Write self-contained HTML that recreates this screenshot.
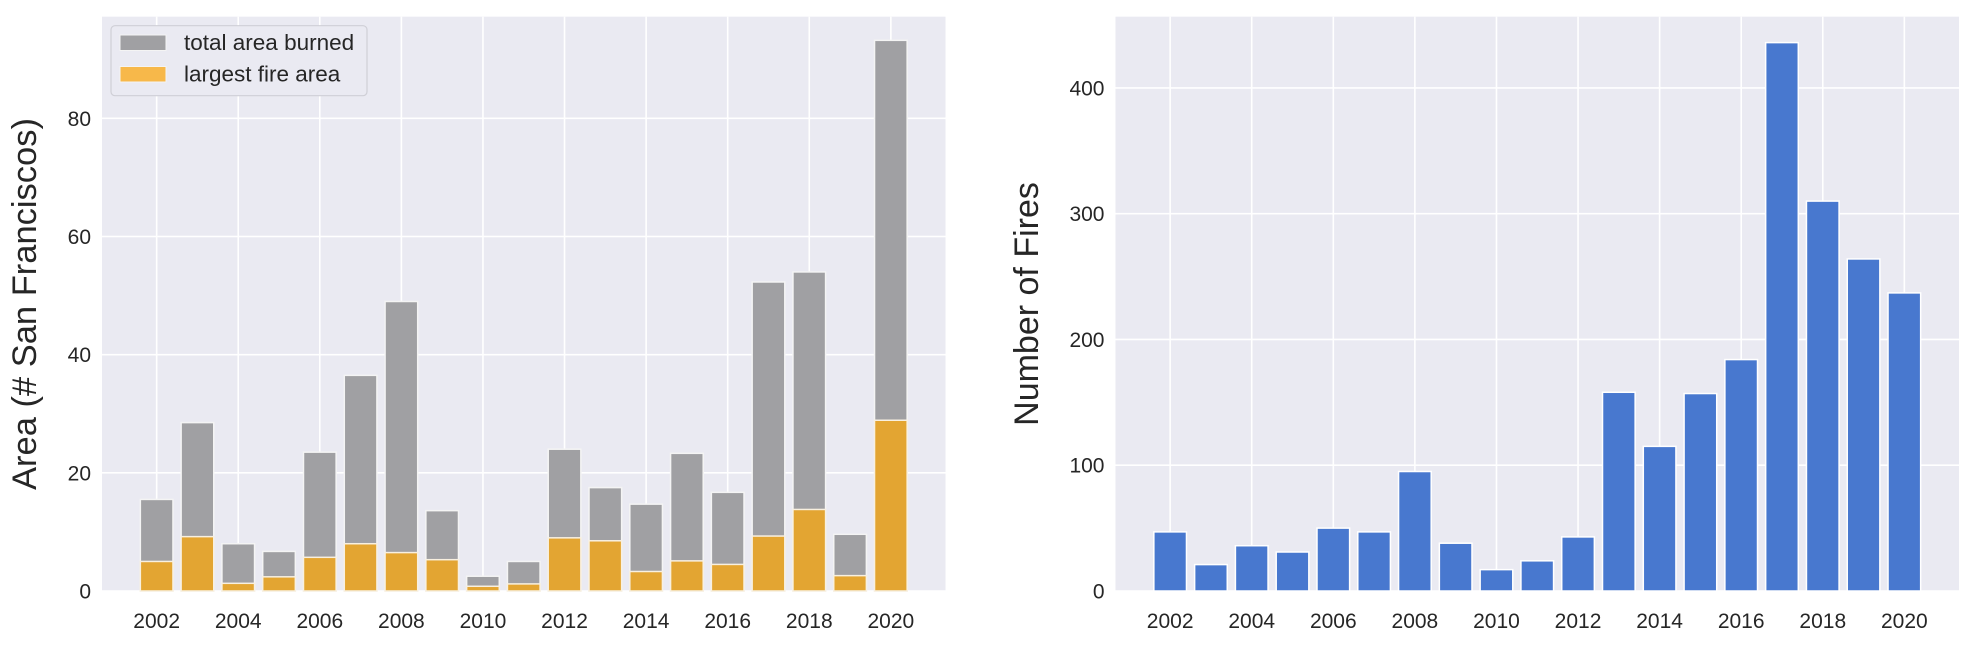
<!DOCTYPE html>
<html><head><meta charset="utf-8"><style>
body{margin:0;background:#fff;}
svg{display:block;font-family:"Liberation Sans",Arial,sans-serif;}
</style></head><body>
<svg id="chart" width="1974" height="647" xmlns="http://www.w3.org/2000/svg"></svg>
<script>
const years=[2002,2003,2004,2005,2006,2007,2008,2009,2010,2011,2012,2013,2014,2015,2016,2017,2018,2019,2020];
const totalArea=[15.5,28.5,8,6.7,23.5,36.5,49,13.6,2.5,5,24,17.5,14.7,23.3,16.7,52.3,54,9.6,93.2];
const largestArea=[5,9.2,1.3,2.4,5.7,8,6.5,5.3,0.8,1.2,9,8.5,3.3,5.1,4.5,9.3,13.8,2.6,28.9];
const fireCounts=[47,21,36,31,50,47,95,38,17,24,43,158,115,157,184,436,310,264,237];
const xTicks=[2002,2004,2006,2008,2010,2012,2014,2016,2018,2020];
const leftYTicks=[0,20,40,60,80];
const rightYTicks=[0,100,200,300,400];

const NS="http://www.w3.org/2000/svg";
const svg=document.getElementById('chart');
function mk(tag,attrs,parent){const e=document.createElementNS(NS,tag);for(const k in attrs)e.setAttribute(k,attrs[k]);(parent||svg).appendChild(e);return e;}
const TOP=16.7,BOT=591, XMIN=2000.66, XMAX=2021.34;

function panel(L,R,ymax,yTicks,name){
  const g=mk('g',{});
  
  
  const xs=v=>L+(v-XMIN)/(XMAX-XMIN)*(R-L);
  const ys=v=>BOT-v/ymax*(BOT-TOP);
  const bg=mk('rect',{x:L,y:TOP,width:R-L,height:BOT-TOP,fill:'#eaeaf2'},g);
  
  
  xTicks.forEach(t=>{
    const l=mk('line',{x1:xs(t),x2:xs(t),y1:TOP,y2:BOT,stroke:'#fff','stroke-width':1.6},g);
    
    
    const tx=mk('text',{x:xs(t),y:628,'text-anchor':'middle','font-size':21,fill:'#262626'},g);
    tx.textContent=t;
    
    
  });
  yTicks.forEach(t=>{
    const l=mk('line',{x1:L,x2:R,y1:ys(t),y2:ys(t),stroke:'#fff','stroke-width':1.6},g);
    
    
    const tx=mk('text',{x:L-11,y:ys(t)+7.5,'text-anchor':'end','font-size':21,fill:'#262626'},g);
    tx.textContent=t;
    
    
  });
  return {g,xs,ys};
}

// Left panel
const P1=panel(102,945.5,97.2,leftYTicks,'area-chart');
years.forEach((y,i)=>{
  const x=P1.xs(y-0.4),w=P1.xs(y+0.4)-x;
  const b=mk('rect',{x:x,y:P1.ys(totalArea[i]),width:w,height:BOT-P1.ys(totalArea[i]),fill:'#a0a0a3',stroke:'#f4f4f4','stroke-width':1.5},P1.g);
  
  
});
years.forEach((y,i)=>{
  const x=P1.xs(y-0.4),w=P1.xs(y+0.4)-x;
  const b=mk('rect',{x:x,y:P1.ys(largestArea[i]),width:w,height:BOT-P1.ys(largestArea[i]),fill:'#e3a532',stroke:'#f8f0e0','stroke-width':1.5},P1.g);
  
  
});
const yl1=mk('text',{x:0,y:0,transform:'translate(36,304) rotate(-90)','text-anchor':'middle','font-size':34.5,fill:'#262626'});
yl1.textContent='Area (# San Franciscos)';



// legend
const lg=mk('g',{});


mk('rect',{x:111,y:25.7,width:256,height:70,rx:4,fill:'#eaeaf2',stroke:'#cfcfd6','stroke-width':1.2},lg);
mk('rect',{x:120,y:35,width:46,height:15.5,fill:'#a0a0a3',stroke:'#f4f4f4','stroke-width':1},lg);
mk('rect',{x:120,y:66.5,width:46,height:15.5,fill:'#f7b84a',stroke:'#f4f4f4','stroke-width':1},lg);
const le1=mk('text',{x:184,y:50,'font-size':22.5,fill:'#262626'},lg);
le1.textContent='total area burned';


const le2=mk('text',{x:184,y:81.5,'font-size':22.5,fill:'#262626'},lg);
le2.textContent='largest fire area';



// Right panel
const P2=panel(1115.5,1959,456.6,rightYTicks,'fires-chart');
years.forEach((y,i)=>{
  const x=P2.xs(y-0.4),w=P2.xs(y+0.4)-x;
  const b=mk('rect',{x:x,y:P2.ys(fireCounts[i]),width:w,height:BOT-P2.ys(fireCounts[i]),fill:'#4878cf',stroke:'#fff','stroke-width':1.5},P2.g);
  
  
});
const yl2=mk('text',{x:0,y:0,transform:'translate(1038,304) rotate(-90)','text-anchor':'middle','font-size':34,fill:'#262626'});
yl2.textContent='Number of Fires';


</script>
</body></html>
